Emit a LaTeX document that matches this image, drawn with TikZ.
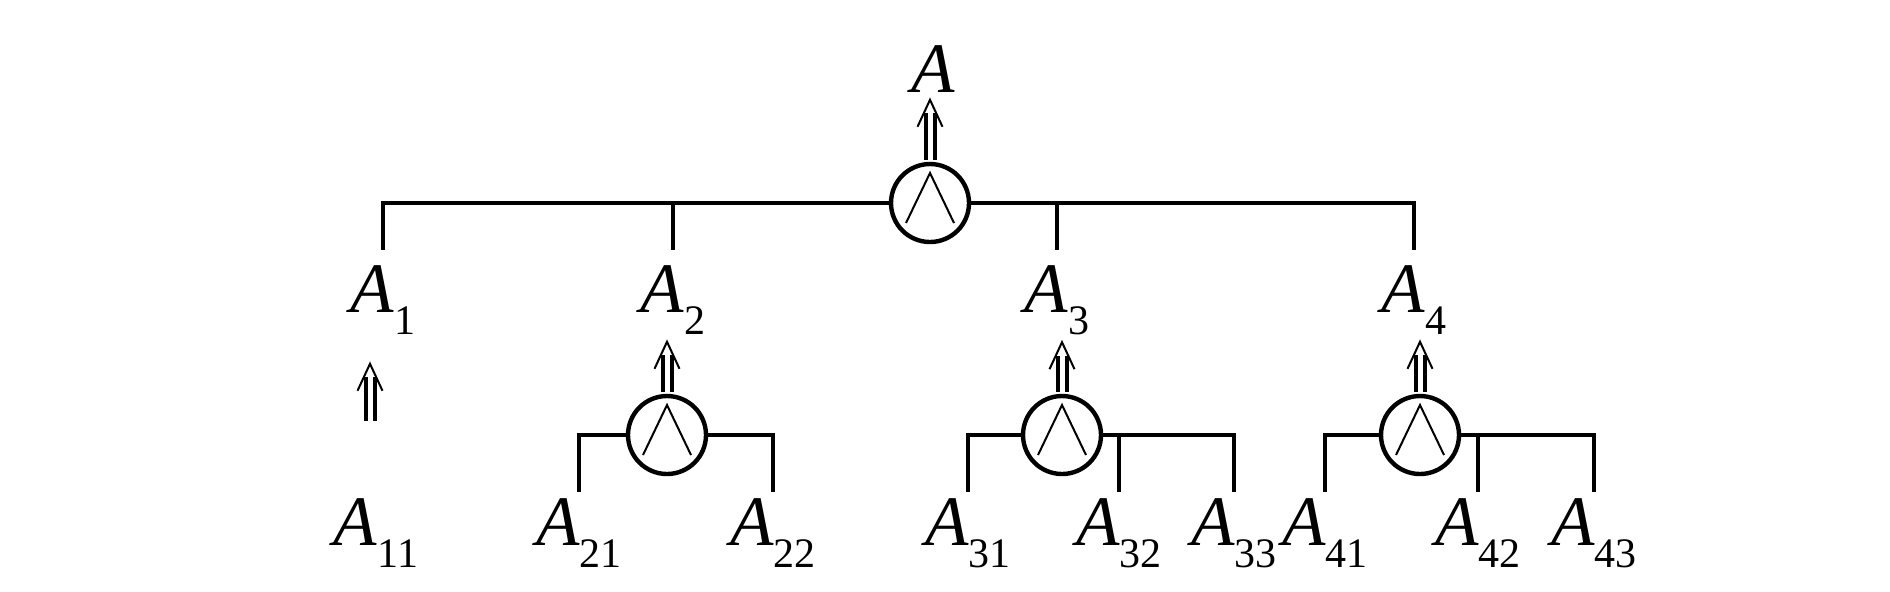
\documentclass[tikz,border=0pt]{standalone}
\usepackage{fontspec}
\setmainfont{Liberation Serif}
\usetikzlibrary{arrows.meta}
\tikzset{
  wire/.style={line width=2.2pt},
  gate/.style={circle, draw, line width=2.2pt, minimum size=39pt, inner sep=0pt,
    path picture={\draw[line width=1pt]
      ([shift={(-12pt,-10pt)}]path picture bounding box.center) --
      ([shift={(0pt,15pt)}]path picture bounding box.center) --
      ([shift={(12pt,-10pt)}]path picture bounding box.center);}},
  lbl/.style={inner sep=0pt, anchor=base, font=\fontsize{35.5pt}{36pt}\selectfont},
  dbl/.style={double, double distance=2.5pt, line width=2pt, shorten >=8pt, shorten <=1pt,
    postaction={draw, line width=1pt, dash pattern=on 0pt off 300pt,
      shorten >=0pt, shorten <=0pt, -{Straight Barb[length=13.5pt,width=12.5pt]}}}
}
\newcommand{\albl}[1]{\textit{A}\raisebox{-11pt}{\fontsize{21pt}{21pt}\selectfont #1}}

\begin{document}
\begin{tikzpicture}[x=0.5pt,y=-0.5pt]
\useasboundingbox (0,0) rectangle (1890,591);
% top level
\node[gate] (c0) at (930,203) {};
\node[lbl] (l0) at (933,92) {\textit{A}};
\node[lbl] (l1) at (383,312) {\albl{1}};
\node[lbl] (l2) at (673,312) {\albl{2}};
\node[lbl] (l3) at (1057,312) {\albl{3}};
\node[lbl] (l4) at (1414,312) {\albl{4}};
% second level
\node[gate] (c2) at (667,435) {};
\node[gate] (c3) at (1062,435) {};
\node[gate] (c4) at (1420,435) {};
\node[lbl] (l11) at (376,545) {\albl{11}};
\node[lbl] (l21) at (579,545) {\albl{21}};
\node[lbl] (l22) at (773,545) {\albl{22}};
\node[lbl] (l31) at (968,545) {\albl{31}};
\node[lbl] (l32) at (1119,545) {\albl{32}};
\node[lbl] (l33) at (1234,545) {\albl{33}};
\node[lbl] (l41) at (1325,545) {\albl{41}};
\node[lbl] (l42) at (1478,545) {\albl{42}};
\node[lbl] (l43) at (1594,545) {\albl{43}};

\draw[dbl] (c0.north) -- ([yshift=-2.5pt]c0.north |- l0.south);
\draw[wire, shorten >=7.5pt] (c0.west) -| (l1.north);
\draw[wire, shorten >=7.5pt] (l2.north |- c0.west) -- (l2.north);
\draw[wire, shorten >=7.5pt] (c0.east) -| (l4.north);
\draw[wire, shorten >=7.5pt] (l3.north |- c0.east) -- (l3.north);

\draw[dbl] ([xshift=-3pt,yshift=37.5pt]l11.north) -- ([xshift=-3pt,yshift=-13.5pt]l11.north |- l1.south);
\draw[dbl] (c2.north) -- ([yshift=-2.5pt]c2.north |- l2.south);
\draw[dbl] (c3.north) -- ([yshift=-2.5pt]c3.north |- l3.south);
\draw[dbl] (c4.north) -- ([yshift=-2.5pt]c4.north |- l4.south);

\draw[wire, shorten >=3pt] (c2.west) -| (l21.north);
\draw[wire, shorten >=3pt] (c2.east) -| (l22.north);
\draw[wire, shorten >=3pt] (c3.west) -| (l31.north);
\draw[wire, shorten >=3pt] (c3.east) -| (l33.north);
\draw[wire, shorten >=3pt] (l32.north |- c3.east) -- (l32.north);
\draw[wire, shorten >=3pt] (c4.west) -| (l41.north);
\draw[wire, shorten >=3pt] (c4.east) -| (l43.north);
\draw[wire, shorten >=3pt] (l42.north |- c4.east) -- (l42.north);
\end{tikzpicture}
\end{document}
